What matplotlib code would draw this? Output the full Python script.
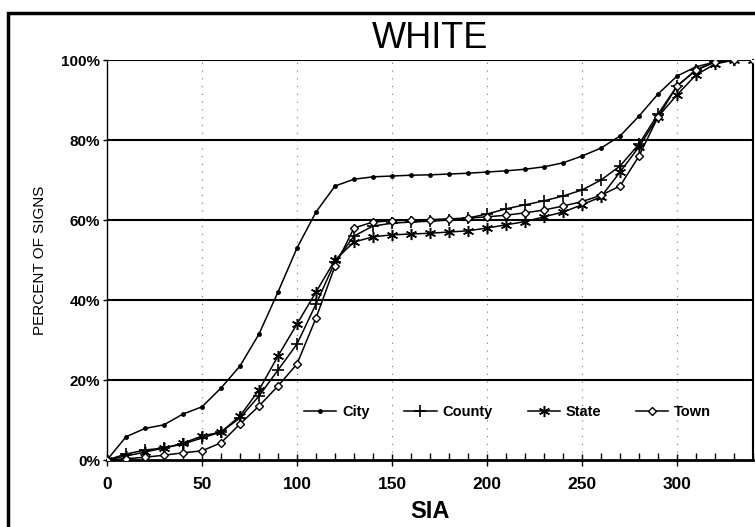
import matplotlib
matplotlib.use("Agg")
import matplotlib.pyplot as plt
from matplotlib.patches import Rectangle
from matplotlib.ticker import MultipleLocator, FuncFormatter

# SIA values (every 10)
sia = [0, 10, 20, 30, 40, 50, 60, 70, 80, 90, 100, 110, 120, 130, 140, 150, 160,
       170, 180, 190, 200, 210, 220, 230, 240, 250, 260, 270, 280, 290, 300,
       310, 320, 330, 340]

# cumulative percent of signs
city = [0, 5.8, 7.9, 8.8, 11.5, 13.3, 18, 23.5, 31.5, 42, 53, 62, 68.5, 70.2,
        70.8, 71, 71.2, 71.3, 71.5, 71.7, 72, 72.3, 72.7, 73.3, 74.3, 76, 78,
        81, 86, 91.5, 96, 98.3, 99.5, 100, 100]
county = [0, 1.5, 2.5, 3, 4, 5.5, 7, 10.5, 16, 22.5, 29, 39, 49.5, 56, 58.5,
          59.2, 59.5, 59.7, 60, 60.5, 61.5, 62.8, 63.8, 64.8, 66, 67.5, 70,
          73.5, 79, 86.5, 93.5, 97.5, 99.5, 100, 100]
state = [0, 1, 2, 3, 4.2, 6, 7, 11, 17.5, 26, 34, 42, 50, 54.5, 55.8, 56.3,
         56.5, 56.7, 57, 57.3, 58, 58.8, 59.6, 60.8, 62, 63.8, 65.8, 72, 78.3,
         85.8, 91.3, 96.3, 99, 100, 100]
town = [0, 0.3, 0.7, 1.2, 1.8, 2.3, 4.3, 9, 13.5, 18.5, 24, 35.5, 48.5, 58,
        59.5, 59.8, 60, 60.1, 60.3, 60.5, 60.8, 61.2, 61.8, 62.5, 63.5, 64.6,
        66.2, 68.5, 76, 85.8, 93.5, 97.5, 99.5, 100, 100]

y_ticks = [0, 20, 40, 60, 80, 100]
x_ticks = [0, 50, 100, 150, 200, 250, 300]

plt.rcParams["font.family"] = ["Liberation Sans", "DejaVu Sans"]

fig = plt.figure(figsize=(7.55, 5.27), dpi=100)
ax = fig.add_axes([0.1417, 0.1271, 0.8557, 0.7590])

# outer frame of the figure (left and top edges visible)
fig.patches.append(Rectangle((8 / 755, -0.05), 1.0, 1 - 13 / 527 + 0.05,
                             transform=fig.transFigure, fill=False,
                             edgecolor="black", linewidth=2.5))

# grid
for yv in y_ticks[1:]:
    ax.axhline(yv, color="black", lw=1.5, zorder=1)
for xv in x_ticks[1:]:
    ax.axvline(xv, color="#777777", lw=0.8, ls=(0, (1, 6)), zorder=1)

lw = 1.1
ax.plot(sia, city, color="black", lw=lw, marker="o", ms=2.5, label="City", zorder=3)
ax.plot(sia, county, color="black", lw=lw, marker="+", ms=9, mew=1.2,
        label="County", zorder=3)
ax.plot(sia, state, color="black", lw=lw, marker=(6, 2, 0), ms=8, mew=1.1,
        label="State", zorder=3)
ax.plot(sia, town, color="black", lw=lw, marker="D", ms=4.5, mfc="white",
        mew=1.0, label="Town", zorder=3)

ax.set_xlim(0, 340)
ax.set_ylim(0, 100)
ax.set_xticks(x_ticks)
ax.set_yticks(y_ticks)
ax.xaxis.set_minor_locator(MultipleLocator(10))
ax.yaxis.set_major_formatter(FuncFormatter(lambda v, p: f"{int(v)}%"))

ax.tick_params(axis="x", which="major", direction="inout", length=8, width=1,
               labelsize=12.5, pad=8)
ax.tick_params(axis="x", which="minor", direction="in", length=5, width=1)
ax.tick_params(axis="y", which="major", direction="out", length=3, width=1,
               labelsize=11, pad=2)
for lab in ax.get_xticklabels() + ax.get_yticklabels():
    lab.set_fontweight("bold")

ax.spines["top"].set_visible(False)
ax.spines["bottom"].set_linewidth(2)
ax.spines["left"].set_linewidth(1)
ax.spines["right"].set_linewidth(1.5)

ax.set_xlabel("SIA", fontsize=17, fontweight="bold", labelpad=6)
ax.set_ylabel("PERCENT OF SIGNS", fontsize=11, labelpad=10)
fig.text(430 / 755, 1 - 38 / 527, "WHITE", fontsize=26, ha="center", va="center")

leg = ax.legend(loc="center", bbox_to_anchor=(0.62, 0.12), ncol=4, frameon=False,
                handlelength=2.2, columnspacing=2.4, handletextpad=0.4,
                prop={"weight": "bold", "size": 10.5})

fig.savefig("out.png", dpi=100)
